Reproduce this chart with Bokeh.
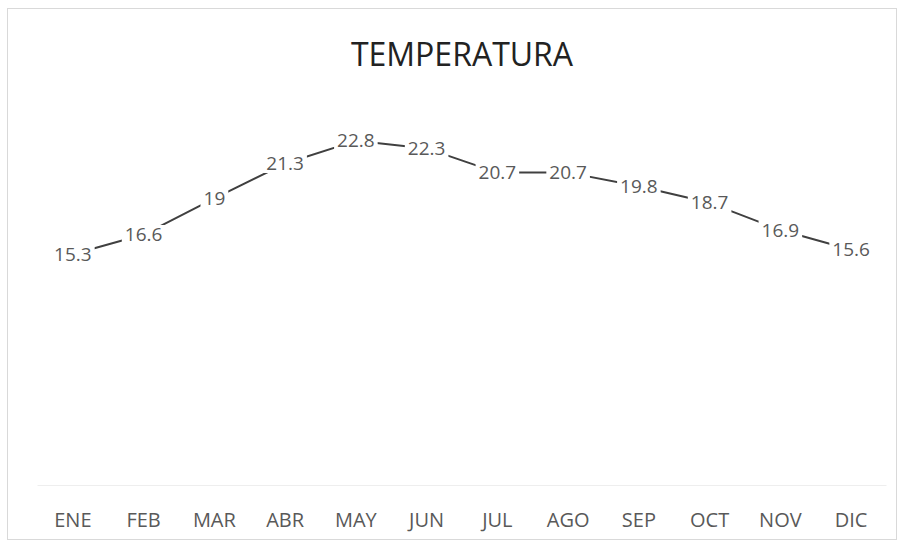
from bokeh.plotting import figure
from bokeh.models import ColumnDataSource, Range1d
from bokeh.core.properties import value
from bokeh.embed import file_html
from bokeh.resources import INLINE

months = ["ENE", "FEB", "MAR", "ABR", "MAY", "JUN", "JUL", "AGO", "SEP", "OCT", "NOV", "DIC"]
temps = [15.3, 16.6, 19, 21.3, 22.8, 22.3, 20.7, 20.7, 19.8, 18.7, 16.9, 15.6]
labels = ["15.3", "16.6", "19", "21.3", "22.8", "22.3", "20.7", "20.7", "19.8", "18.7", "16.9", "15.6"]

src = ColumnDataSource(dict(m=months, t=temps, lab=labels))

p = figure(x_range=months, y_range=Range1d(0, 26), width=890, height=532,
           output_backend="svg", toolbar_location=None,
           min_border_left=29, min_border_right=12, min_border_top=83, min_border_bottom=56)

p.title.text = "TEMPERATURA"
p.title.align = "center"
p.title.text_font = "Open Sans"
p.title.text_font_size = "32px"
p.title.text_font_style = "normal"
p.title.text_color = "#222222"
p.title.standoff = 36

p.line("m", "t", source=src, line_color="#404040", line_width=2)
p.text("m", "t", text="lab", source=src, text_align="center",
       text_baseline="middle", text_font=value("Open Sans"), text_font_size="19px",
       text_color="#595959", background_fill_color="white",
       background_fill_alpha=1.0, padding=3)

p.yaxis.visible = False
p.xgrid.grid_line_color = None
p.ygrid.grid_line_color = None
p.outline_line_color = None
p.xaxis.axis_line_color = "#eeeeee"
p.xaxis.major_tick_line_color = None
p.xaxis.minor_tick_line_color = None
p.xaxis.major_label_text_font = "Open Sans"
p.xaxis.major_label_text_font_size = "20px"
p.xaxis.major_label_text_color = "#595959"
p.xaxis.major_label_standoff = 14
p.styles = {"border": "1px solid #d9d9d9", "margin": "8px 0px 0px 7px"}

open("out.html", "w").write(file_html(p, INLINE))
